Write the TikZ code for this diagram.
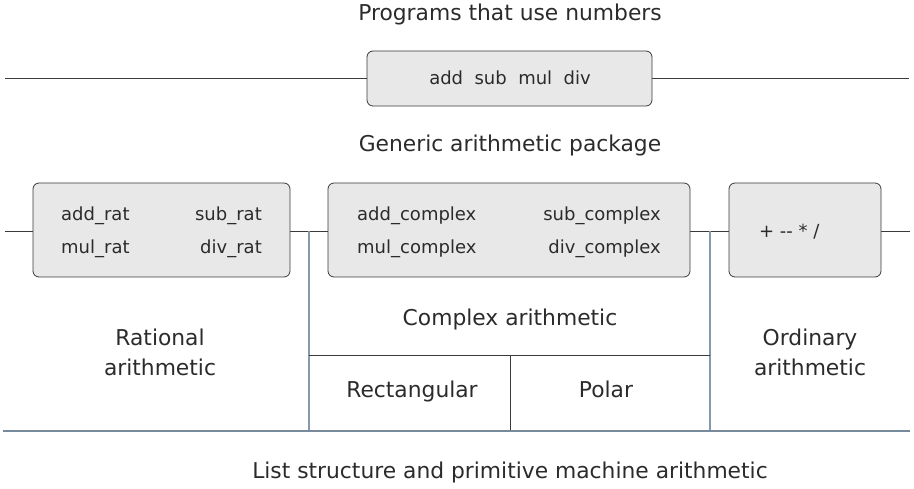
\documentclass[tikz,border=0pt]{standalone}
\usepackage{fontspec}
\setmainfont{DejaVu Sans}
\definecolor{linedark}{HTML}{3A3A3A}
\definecolor{lineblue}{HTML}{8499AC}
\definecolor{boxfill}{HTML}{E8E8E8}
\definecolor{txt}{HTML}{2B2B2B}
\begin{document}
\begin{tikzpicture}[x=1pt,y=-1pt,
  big/.style={font=\fontsize{21.8}{30}\selectfont, text=txt, inner sep=0pt},
  small/.style={font=\fontsize{18}{20}\selectfont, text=txt, inner sep=0pt},
  opbox/.style={draw=linedark, fill=boxfill, rounded corners=6pt, line width=0.8pt},
  hline/.style={draw=linedark, line width=0.9pt},
  vline/.style={draw=lineblue, line width=1.4pt}]
\useasboundingbox (0,0) rectangle (914,489);
% coordinates
\coordinate (t0) at (5,78);
\coordinate (t1) at (909,78);
\coordinate (m0) at (5,231);
\coordinate (m1) at (910,231);
\coordinate (b0) at (3,431);
\coordinate (b1) at (910,431);
\coordinate (vl0) at (309,231);
\coordinate (vl1) at (309,431);
\coordinate (vr0) at (710,231);
\coordinate (vr1) at (710,431);
\coordinate (h0) at (309,355);
\coordinate (h1) at (710,355);
\coordinate (vc0) at (510,355);
\coordinate (vc1) at (510,431);
% lines
\draw[hline] (t0) -- (t1);
\draw[hline] (m0) -- (m1);
\draw[vline] (vl0) -- (vl1);
\draw[vline] (vr0) -- (vr1);
\draw[hline] (h0) -- (h1);
\draw[hline] (vc0) -- (vc1);
\draw[vline, draw=lineblue!90!black] (b0) -- (b1);
% boxes
\node[opbox, minimum width=285pt, minimum height=55pt] (generic) at (509.5,78.5) {};
\node[small] (ops) at (510,78) {add\ \ sub\ \ mul\ \ div};
\node[opbox, minimum width=257pt, minimum height=94pt] (ratbox) at (161.5,230) {};
\node[opbox, minimum width=362pt, minimum height=94pt] (cpxbox) at (509,230) {};
\node[opbox, minimum width=152pt, minimum height=94pt] (ordbox) at (805,230) {};
\node[small, anchor=base west] (addrat) at (61,221) {add\_rat};
\node[small, anchor=base east] (subrat) at (262,221) {sub\_rat};
\node[small, anchor=base west] (mulrat) at (61,254) {mul\_rat};
\node[small, anchor=base east] (divrat) at (262,254) {div\_rat};
\node[small, anchor=base west] (addcpx) at (357,221) {add\_complex};
\node[small, anchor=base east] (subcpx) at (661,221) {sub\_complex};
\node[small, anchor=base west] (mulcpx) at (357,254) {mul\_complex};
\node[small, anchor=base east] (divcpx) at (661,254) {div\_complex};
\node[small, anchor=base west] (ordops) at (759,238) {+ -{}- * /};
% labels
\node[big, anchor=base] (title) at (510,21) {Programs that use numbers};
\node[big, anchor=base] (genlbl) at (510,152) {Generic arithmetic package};
\node[big, align=center, anchor=base] (ratlbl) at (160,375) {Rational\\arithmetic};
\node[big, anchor=base] (cpxlbl) at (510,326) {Complex arithmetic};
\node[big, anchor=base] (rect) at (412,398) {Rectangular};
\node[big, anchor=base] (polar) at (606,398) {Polar};
\node[big, align=center, anchor=base] (ordlbl) at (810,375) {Ordinary\\arithmetic};
\node[big, anchor=base] (list) at (510,478) {List structure and primitive machine arithmetic};
\end{tikzpicture}
\end{document}
